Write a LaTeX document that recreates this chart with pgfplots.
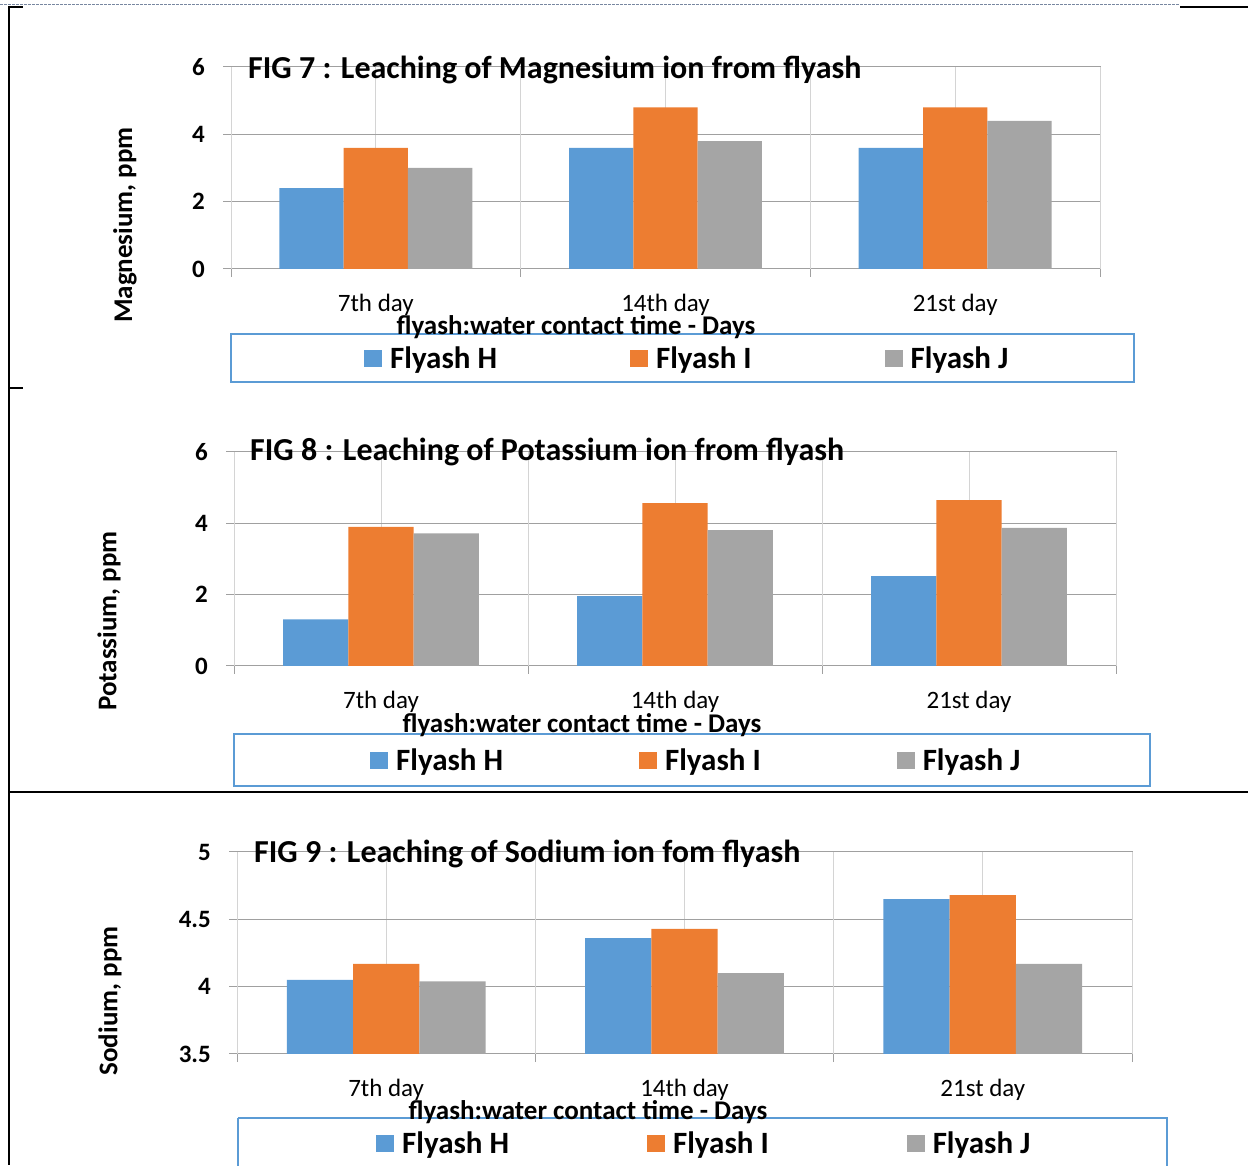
\documentclass[border=0pt]{standalone}
\usepackage{fontspec}
\setmainfont{Carlito}
\usepackage{pgfplots}
\pgfplotsset{compat=1.18}
\definecolor{cH}{HTML}{5B9BD5}
\definecolor{cI}{HTML}{ED7D31}
\definecolor{cJ}{HTML}{A5A5A5}
\definecolor{gridc}{RGB}{160,160,160}
\definecolor{gridl}{RGB}{212,212,212}
\definecolor{legb}{HTML}{5B9BD5}
\definecolor{dashc}{RGB}{120,135,160}
\newcommand{\fs}[1]{\fontsize{#1}{#1}\selectfont}

\pgfplotsset{
  panel/.style={
    scale only axis,
    anchor=south west,
    ybar=0pt, bar width=0.222,
    xmin=-0.5, xmax=2.5,
    xtick={0,1,2}, xticklabels={7th day,14th day,21st day},
    xmajorgrids, ymajorgrids,
    major x grid style={gridl, line width=1pt},
    major y grid style={gridc, line width=1pt},
    xtick style={draw=none},
    ytick style={gridc, line width=1pt},
    tick align=outside, major tick length=8pt, tick pos=left,
    extra x ticks={-0.5,0.5,1.5,2.5},
    extra x tick labels={},
    extra x tick style={grid=major, major grid style={gridc,line width=1pt},
       xtick style={draw=gridc, line width=1pt}},
    axis line style={gridc, line width=1pt},
    yticklabel style={font=\bfseries\fs{25}, inner sep=0pt, anchor=east, xshift=-18pt},
    xticklabel style={font=\fs{25}, yshift=-14pt},
    legend columns=3,
    legend style={draw=none, fill=none, font=\bfseries\fs{31}, anchor=west,
      inner sep=0pt, nodes={inner xsep=0pt}},
    legend image code/.code={\fill[##1] (0pt,-9pt) rectangle (18pt,8pt); \path (26pt,0pt);},
  }
}

\begin{document}
\begin{tikzpicture}[x=1pt,y=1pt]
\path[use as bounding box] (0,0) rectangle (1248,1165);

% page / table rules
\draw[dashc, line width=1pt, dash pattern=on 3pt off 1pt] (0,1160) -- (1180,1160);
\draw[black, line width=1.5pt] (1180,1158) -- (1248,1158);
\draw[black, line width=2pt] (9,1159) -- (9,0);
\draw[black, line width=1.5pt] (9,1158) -- (23,1158);
\draw[black, line width=1.5pt] (9,777) -- (23,777);
\draw[black, line width=1.3pt] (9,373) -- (1248,373);

% ---------- Panel 1: Magnesium ----------
\begin{axis}[panel, at={(231pt,896pt)}, width=869pt, height=202pt,
  ymin=0, ymax=6, ytick={0,2,4,6}, yticklabels={0,2,4,6},
  legend style={at={(0.1530,-0.4406)},
    /tikz/every even column/.append style={column sep=133pt}}]
\addplot[fill=cH, draw=none] coordinates {(0,2.4) (1,3.6) (2,3.6)};
\addplot[fill=cI, draw=none] coordinates {(0,3.6) (1,4.8) (2,4.8)};
\addplot[fill=cJ, draw=none] coordinates {(0,3.0) (1,3.8) (2,4.4)};
\legend{Flyash H, Flyash I, Flyash J}
\end{axis}
\draw[legb, line width=1.5pt] (231,831) rectangle (1134,783);
\node[anchor=base west, inner sep=0pt, font=\bfseries\fs{32}] at (248,1086) {FIG 7 : Leaching of Magnesium ion from flyash};
\node[rotate=90, font=\bfseries\fs{27}] at (125,940) {Magnesium, ppm};
\node[font=\bfseries\fs{27}] at (576,838) {flyash:water contact time - Days};

% ---------- Panel 2: Potassium ----------
\begin{axis}[panel, at={(234pt,499pt)}, width=882pt, height=214pt,
  ymin=0, ymax=6, ytick={0,2,4,6}, yticklabels={0,2,4,6},
  legend style={at={(0.1542,-0.4393)},
    /tikz/every even column/.append style={column sep=136pt}}]
\addplot[fill=cH, draw=none] coordinates {(0,1.31) (1,1.96) (2,2.52)};
\addplot[fill=cI, draw=none] coordinates {(0,3.90) (1,4.57) (2,4.65)};
\addplot[fill=cJ, draw=none] coordinates {(0,3.72) (1,3.81) (2,3.87)};
\legend{Flyash H, Flyash I, Flyash J}
\end{axis}
\draw[legb, line width=1.5pt] (234,431) rectangle (1150,379);
\node[anchor=base west, inner sep=0pt, font=\bfseries\fs{32}] at (250,704) {FIG 8 : Leaching of Potassium ion from flyash};
\node[rotate=90, font=\bfseries\fs{27}] at (109,544) {Potassium, ppm};
\node[font=\bfseries\fs{27}] at (582,440) {flyash:water contact time - Days};

% ---------- Panel 3: Sodium ----------
\begin{axis}[panel, at={(237pt,111pt)}, width=895pt, height=202pt,
  ymin=3.5, ymax=5, ytick={3.5,4,4.5,5}, yticklabels={3.5,4,4.5,5},
  legend style={at={(0.1553,-0.4406)},
    /tikz/every even column/.append style={column sep=138pt}}]
\addplot[fill=cH, draw=none] coordinates {(0,4.05) (1,4.36) (2,4.65)};
\addplot[fill=cI, draw=none] coordinates {(0,4.17) (1,4.43) (2,4.68)};
\addplot[fill=cJ, draw=none] coordinates {(0,4.04) (1,4.10) (2,4.17)};
\legend{Flyash H, Flyash I, Flyash J}
\end{axis}
\draw[legb, line width=1.5pt] (238,47) -- (1167,47) -- (1167,-5);
\draw[legb, line width=1.5pt] (238,47) -- (238,-5);
\node[anchor=base west, inner sep=0pt, font=\bfseries\fs{32}] at (254,302) {FIG 9 : Leaching of Sodium ion fom flyash};
\node[rotate=90, font=\bfseries\fs{27}] at (110,164) {Sodium, ppm};
\node[font=\bfseries\fs{27}] at (588,53) {flyash:water contact time - Days};
\end{tikzpicture}
\end{document}
